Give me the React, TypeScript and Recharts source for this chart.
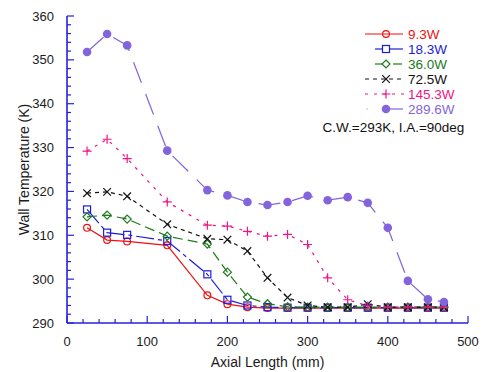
import React from 'react';
import { LineChart, Line, XAxis, YAxis, Customized } from 'recharts';

// Axial positions of the thermocouples (mm)
const axialLength = [25, 50, 75, 125, 175, 200, 225, 250, 275, 300, 325, 350, 375, 400, 425, 450, 470];

// Wall temperature (K) for each heater power
const temp9_3W = [311.7, 308.9, 308.6, 307.7, 296.3, 294.3, 293.6, 293.4, 293.4, 293.4, 293.4, 293.4, 293.4, 293.4, 293.4, 293.4, 293.4];
const temp18_3W = [315.9, 310.6, 310.1, 308.7, 301.1, 295.3, 294.0, 293.6, 293.5, 293.5, 293.5, 293.5, 293.5, 293.5, 293.5, 293.5, 293.5];
const temp36_0W = [314.2, 314.6, 313.7, 309.8, 308.0, 301.6, 295.9, 294.4, 293.7, 293.6, 293.6, 293.6, 293.6, 293.6, 293.6, 293.6, 293.6];
const temp72_5W = [319.6, 319.9, 318.9, 312.5, 309.2, 309.0, 306.4, 300.3, 295.8, 294.0, 293.6, 293.6, 294.3, 293.6, 293.6, 293.6, 293.6];
const temp145_3W = [329.2, 331.9, 327.5, 317.6, 312.3, 312.1, 310.9, 309.8, 310.2, 307.9, 300.3, 295.3, 293.9, 293.6, 293.6, 293.6, 293.6];
const temp289_6W = [351.8, 355.9, 353.3, 329.3, 320.3, 319.1, 317.6, 316.9, 317.6, 319.0, 318.0, 318.7, 317.4, 311.7, 299.6, 295.4, 294.8];

const seriesLabels = ['9.3W', '18.3W', '36.0W', '72.5W', '145.3W', '289.6W'];
const seriesValues = [temp9_3W, temp18_3W, temp36_0W, temp72_5W, temp145_3W, temp289_6W];
const conditionNote = 'C.W.=293K, I.A.=90deg';

const xMajorTicks = [0, 100, 200, 300, 400, 500];
const yMajorTicks = [290, 300, 310, 320, 330, 340, 350, 360];

const xTitle = 'Axial Length (mm)';
const yTitle = 'Wall Temperature (K)';

// Styling
const FONT = '"Liberation Sans", Arial, sans-serif';
const FRAME = '#2323dc';
const styles = [
  { color: '#ee1111', dash: undefined, marker: 'circle' },
  { color: '#1c1cdc', dash: '18 4 4 4', marker: 'square' },
  { color: '#1d7a1d', dash: '10 5', marker: 'diamond' },
  { color: '#111111', dash: '4 4', marker: 'cross' },
  { color: '#f01484', dash: '3 6', marker: 'plus' },
  { color: '#8464dc', dash: '22 12', marker: 'disc' },
];

const xMinorTicks = Array.from({ length: 26 }, (_, i) => i * 20);
const yMinorTicks = Array.from({ length: 36 }, (_, i) => 290 + i * 2);

const rows = axialLength.map((x, i) => {
  const row: Record<string, number> = { x };
  seriesValues.forEach((vals, s) => {
    row['s' + s] = vals[i];
  });
  return row;
});

function Marker({ kind, color, cx, cy }: { kind: string; color: string; cx: number; cy: number }) {
  const sw = 1.2;
  switch (kind) {
    case 'circle':
      return <circle cx={cx} cy={cy} r={3.4} fill="none" stroke={color} strokeWidth={sw} />;
    case 'square':
      return <rect x={cx - 3.5} y={cy - 3.5} width={7} height={7} fill="none" stroke={color} strokeWidth={sw} />;
    case 'diamond':
      return (
        <path
          d={`M${cx},${cy - 4}L${cx + 4},${cy}L${cx},${cy + 4}L${cx - 4},${cy}Z`}
          fill="none"
          stroke={color}
          strokeWidth={sw}
        />
      );
    case 'cross':
      return (
        <path
          d={`M${cx - 3.8},${cy - 3.8}L${cx + 3.8},${cy + 3.8}M${cx - 3.8},${cy + 3.8}L${cx + 3.8},${cy - 3.8}`}
          stroke={color}
          strokeWidth={sw}
        />
      );
    case 'plus':
      return (
        <path
          d={`M${cx - 4.5},${cy}L${cx + 4.5},${cy}M${cx},${cy - 4.5}L${cx},${cy + 4.5}`}
          stroke={color}
          strokeWidth={sw}
        />
      );
    default:
      return <circle cx={cx} cy={cy} r={4.3} fill={color} stroke="none" />;
  }
}

const makeDot = (kind: string, color: string) => (props: any) => {
  const { cx, cy, index } = props;
  if (cx == null || cy == null) return <g key={index} />;
  return (
    <g key={index}>
      <Marker kind={kind} color={color} cx={cx} cy={cy} />
    </g>
  );
};

// Inward tick marks; numeric labels only on major ticks
const LeftTick = (props: any) => {
  const { x, y, payload } = props;
  const major = yMajorTicks.includes(payload.value);
  return (
    <g>
      <line x1={x} x2={x + (major ? 7 : 4)} y1={y} y2={y} stroke={FRAME} strokeWidth={1.2} />
      {major && (
        <text x={x - 13} y={y} textAnchor="end" dominantBaseline="central" fontSize={13} fontFamily={FONT} fill="#1a1a1a">
          {payload.value}
        </text>
      )}
    </g>
  );
};

const RightTick = (props: any) => {
  const { x, y, payload } = props;
  const major = yMajorTicks.includes(payload.value);
  return <line x1={x} x2={x - (major ? 7 : 4)} y1={y} y2={y} stroke={FRAME} strokeWidth={1.2} />;
};

const BottomTick = (props: any) => {
  const { x, y, payload } = props;
  const major = xMajorTicks.includes(payload.value);
  return (
    <g>
      <line x1={x} x2={x} y1={y} y2={y - (major ? 7 : 4)} stroke={FRAME} strokeWidth={1.2} />
      {major && (
        <text x={x} y={y + 18} textAnchor="middle" dominantBaseline="central" fontSize={13} fontFamily={FONT} fill="#1a1a1a">
          {payload.value}
        </text>
      )}
    </g>
  );
};

const TopTick = (props: any) => {
  const { x, y, payload } = props;
  const major = xMajorTicks.includes(payload.value);
  return <line x1={x} x2={x} y1={y} y2={y + (major ? 7 : 4)} stroke={FRAME} strokeWidth={1.2} />;
};

// Legend samples, axis titles and condition note
const Annotations = () => {
  const rowY = (i: number) => 34 + i * 15;
  const lx0 = 365;
  const lx1 = 403;
  const mx = 386;
  const tx = 408;
  return (
    <g fontFamily={FONT}>
      <text x={24} y={169.5} transform="rotate(-90 24 169.5)" textAnchor="middle" dominantBaseline="central" fontSize={14} fill="#1a1a1a">
        {yTitle}
      </text>
      <text x={267.5} y={362} textAnchor="middle" dominantBaseline="central" fontSize={14} fill="#1a1a1a">
        {xTitle}
      </text>
      {seriesLabels.map((label, i) => {
        const st = styles[i];
        const y = rowY(i);
        let sample: React.ReactNode;
        if (i === 0) {
          sample = <line x1={lx0} x2={lx1} y1={y} y2={y} stroke={st.color} strokeWidth={1.2} />;
        } else if (i === 1) {
          sample = (
            <g stroke={st.color} strokeWidth={1.2}>
              <line x1={375} x2={382} y1={y} y2={y} />
              <line x1={389} x2={403} y1={y} y2={y} />
            </g>
          );
        } else if (i === 2) {
          sample = (
            <g stroke={st.color} strokeWidth={1.2}>
              <line x1={375} x2={382} y1={y} y2={y} />
              <line x1={393} x2={402} y1={y} y2={y} />
            </g>
          );
        } else if (i === 5) {
          sample = (
            <g stroke={st.color} strokeWidth={1.2}>
              <line x1={366.5} x2={367.5} y1={y} y2={y} />
              <line x1={386} x2={403} y1={y} y2={y} />
            </g>
          );
        } else {
          sample = <line x1={lx0} x2={lx1 + 2} y1={y} y2={y} stroke={st.color} strokeWidth={1.2} strokeDasharray={st.dash} />;
        }
        return (
          <g key={label}>
            {sample}
            <Marker kind={st.marker} color={st.color} cx={mx} cy={y} />
            <text x={tx} y={y} dominantBaseline="central" fontSize={13.5} fill={st.color}>
              {label}
            </text>
          </g>
        );
      })}
      <text x={322.5} y={127.5} dominantBaseline="central" fontSize={13.5} fill="#111">
        {conditionNote}
      </text>
    </g>
  );
};

export default function App() {
  return (
    <div style={{ position: 'absolute', left: 0, top: 0, width: 484, height: 372, background: '#fff' }}>
      <LineChart width={484} height={372} data={rows} margin={{ top: 16, right: 16, left: 0, bottom: 0 }}>
        <XAxis
          dataKey="x"
          type="number"
          domain={[0, 500]}
          ticks={xMinorTicks}
          interval={0}
          height={49}
          tickSize={0}
          tickMargin={0}
          tickLine={false}
          tick={<BottomTick />}
          axisLine={{ stroke: FRAME, strokeWidth: 1.6 }}
        />
        <XAxis
          xAxisId="top"
          orientation="top"
          type="number"
          domain={[0, 500]}
          ticks={xMinorTicks}
          interval={0}
          height={0}
          tickSize={0}
          tickMargin={0}
          tickLine={false}
          tick={<TopTick />}
          axisLine={{ stroke: FRAME, strokeWidth: 1.6 }}
        />
        <YAxis
          type="number"
          domain={[290, 360]}
          ticks={yMinorTicks}
          interval={0}
          width={67}
          tickSize={0}
          tickMargin={0}
          tickLine={false}
          tick={<LeftTick />}
          axisLine={{ stroke: FRAME, strokeWidth: 1.6 }}
        />
        <YAxis
          yAxisId="right"
          orientation="right"
          type="number"
          domain={[290, 360]}
          ticks={yMinorTicks}
          interval={0}
          width={0}
          tickSize={0}
          tickMargin={0}
          tickLine={false}
          tick={<RightTick />}
          axisLine={{ stroke: FRAME, strokeWidth: 1.6 }}
        />
        {seriesLabels.map((label, i) => (
          <Line
            key={label}
            name={label}
            dataKey={'s' + i}
            type="linear"
            stroke={styles[i].color}
            strokeWidth={1.2}
            strokeDasharray={styles[i].dash}
            dot={makeDot(styles[i].marker, styles[i].color)}
            activeDot={false}
            isAnimationActive={false}
          />
        ))}
        <Customized component={Annotations} />
      </LineChart>
    </div>
  );
}
